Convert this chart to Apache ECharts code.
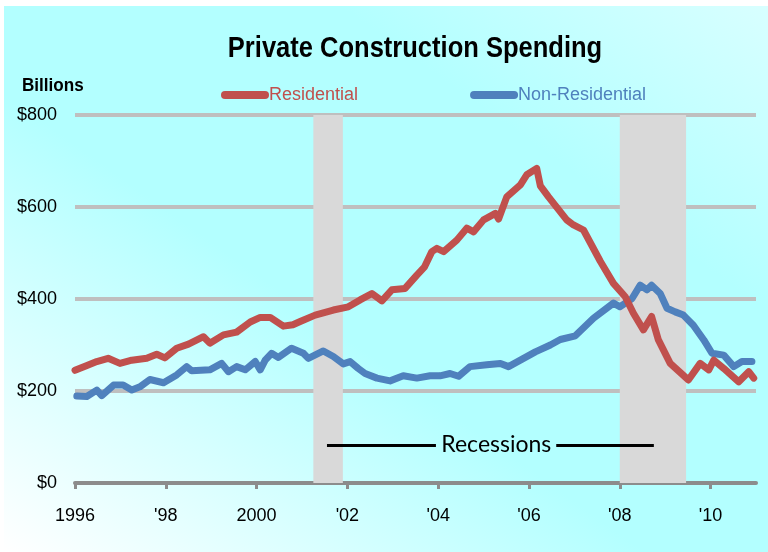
<!DOCTYPE html>
<html>
<head>
<meta charset="utf-8">
<script src="https://cdn.jsdelivr.net/npm/echarts@6/dist/echarts.min.js"></script>
<style>
  body { margin: 0; background: #fff; }
  #bg { position: absolute; left: 4px; top: 6px; width: 764px; height: 546px;
        background: linear-gradient(to top right, #ffffff 0%, #b3ffff 42%, #b3ffff 72%, #d8ffff 100%); }
  #main { position: absolute; left: 0; top: 0; width: 768px; height: 552px; }
</style>
</head>
<body>
<div id="bg"></div>
<div id="main"></div>
<script>
  // times in decimal years, values in $ billions (annual rate)
  let resTimes = [
    1996.0, 1996.25, 1996.48, 1996.73, 1996.99, 1997.25, 1997.58, 1997.8, 1997.98,
    1998.24, 1998.5, 1998.83, 1998.97, 1999.27, 1999.56, 1999.86, 2000.08, 2000.3,
    2000.59, 2000.8, 2000.96, 2001.29, 2001.69, 2002.02, 2002.28, 2002.54, 2002.76,
    2002.98, 2003.27, 2003.53, 2003.7, 2003.86, 2003.97, 2004.12, 2004.41, 2004.63,
    2004.78, 2005.0, 2005.26, 2005.33, 2005.51, 2005.81, 2005.95, 2006.17, 2006.25,
    2006.43, 2006.83, 2006.98, 2007.2, 2007.57, 2007.86, 2008.12, 2008.3, 2008.52,
    2008.7, 2008.85, 2009.11, 2009.51, 2009.77, 2009.96, 2010.07, 2010.29, 2010.62,
    2010.84, 2010.95
  ]
  let residential = [
    245, 255, 264, 271, 260, 267, 271, 280, 272,
    293, 302, 318, 304, 322, 328, 350, 360, 360,
    341, 344, 351, 365, 376, 383, 398, 412, 396,
    420, 423, 452, 470, 503, 510, 503, 528, 554,
    546, 572, 586, 574, 622, 648, 670, 684, 646,
    622, 572, 561, 550, 482, 434, 405, 369, 333,
    362, 311, 260, 224, 260, 246, 267, 249, 220,
    242, 228
  ]
  let nonResTimes = [
    1996.04, 1996.26, 1996.48, 1996.59, 1996.85, 1997.06, 1997.25, 1997.43, 1997.65,
    1997.95, 1998.24, 1998.46, 1998.57, 1998.97, 1999.23, 1999.38, 1999.56, 1999.75,
    1999.97, 2000.08, 2000.19, 2000.33, 2000.48, 2000.77, 2001.03, 2001.14, 2001.47,
    2001.69, 2001.91, 2002.06, 2002.24, 2002.39, 2002.65, 2002.94, 2003.23, 2003.53,
    2003.82, 2004.04, 2004.26, 2004.45, 2004.7, 2005.07, 2005.37, 2005.55, 2005.81,
    2006.14, 2006.47, 2006.69, 2007.02, 2007.42, 2007.86, 2008.0, 2008.27, 2008.45,
    2008.6, 2008.7, 2008.89, 2009.04, 2009.22, 2009.4, 2009.62, 2009.85, 2010.03,
    2010.29, 2010.51, 2010.69, 2010.91
  ]
  let nonResidential = [
    189, 188, 202, 190, 213, 213, 202, 209, 225,
    218, 235, 253, 244, 246, 260, 242, 253, 246,
    264, 246, 267, 282, 273, 293, 282, 271, 287,
    275, 259, 264, 249, 238, 228, 222, 233, 228,
    233, 233, 238, 232, 253, 257, 260, 253, 267,
    285, 300, 312, 320, 358, 391, 383, 401, 430,
    420, 430, 412, 380, 372, 365, 343, 311, 282,
    278, 253, 264, 264
  ]
  let recessions = [[2001.25, 2001.9], [2008.0, 2009.46]]
  let tickYears = [1996, 1998, 2000, 2002, 2004, 2006, 2008, 2010]
  let yearLabels = ['1996', '\'98', '2000', '\'02', '\'04', '\'06', '\'08', '\'10']

  let sans = '"Liberation Sans", Arial, sans-serif'

  let chart = echarts.init(document.getElementById('main'))
  chart.setOption({
    backgroundColor: 'transparent',
    animation: false,
    graphic: [
      {
        type: 'text',
        x: 415,
        y: 34,
        scaleX: 0.88,
        silent: true,
        style: {
          text: 'Private Construction Spending',
          textAlign: 'center',
          font: 'bold 29px ' + sans,
          fill: '#000'
        }
      },
      {
        type: 'text',
        x: 22,
        y: 77,
        scaleX: 0.95,
        silent: true,
        style: { text: 'Billions', font: 'bold 18px ' + sans, fill: '#000' }
      }
    ],
    legend: {
      left: 216,
      top: 81,
      itemGap: 112,
      itemWidth: 48,
      itemHeight: 8,
      icon: 'path://M4,0 H44 A4,4 0 0 1 44,8 H4 A4,4 0 0 1 4,0 Z',
      data: [
        { name: 'Residential', textStyle: { color: '#c0504d' } },
        { name: 'Non-Residential', textStyle: { color: '#4f81bd' } }
      ],
      textStyle: { fontFamily: sans, fontSize: 18, padding: [0, 0, 0, -5] }
    },
    grid: { left: 75, right: 12, top: 115, bottom: 69 },
    xAxis: {
      type: 'value',
      min: 1996,
      max: 2011,
      splitLine: { show: false },
      axisLine: { lineStyle: { color: '#8c8c8c', width: 4 } },
      axisTick: { customValues: tickYears, length: 6, lineStyle: { color: '#8c8c8c', width: 3 } },
      axisLabel: {
        customValues: tickYears,
        margin: 24,
        fontFamily: sans,
        fontSize: 18,
        color: '#000',
        formatter: function (v) { return yearLabels[tickYears.indexOf(v)] || '' }
      }
    },
    yAxis: {
      type: 'value',
      min: 0,
      max: 800,
      interval: 200,
      axisLine: { show: false },
      axisTick: { show: false },
      splitLine: { lineStyle: { color: '#bfbfbf', width: 4 } },
      axisLabel: {
        margin: 18,
        fontFamily: sans,
        fontSize: 18,
        color: '#000',
        formatter: function (v) { return '$' + v }
      }
    },
    series: [
      {
        name: 'Residential',
        type: 'line',
        showSymbol: false,
        data: resTimes.map((t, i) => [t, residential[i]]),
        lineStyle: { color: '#c0504d', width: 7, cap: 'round', join: 'round' },
        itemStyle: { color: '#c0504d' },
        z: 3,
        markArea: {
          silent: true,
          itemStyle: { color: '#d9d9d9', opacity: 1 },
          data: recessions.map(r => [{ xAxis: r[0] }, { xAxis: r[1] }])
        }
      },
      {
        name: 'Non-Residential',
        type: 'line',
        showSymbol: false,
        data: nonResTimes.map((t, i) => [t, nonResidential[i]]),
        lineStyle: { color: '#4f81bd', width: 7, cap: 'round', join: 'round' },
        itemStyle: { color: '#4f81bd' },
        z: 2,
        markLine: {
          silent: true,
          symbol: 'none',
          label: { show: false },
          lineStyle: { color: '#000', width: 3, type: 'solid' },
          data: [
            [{ coord: [2001.55, 83] }, { coord: [2003.95, 83] }],
            [{ coord: [2006.6, 83] }, { coord: [2008.75, 83] }]
          ]
        },
        markPoint: {
          silent: true,
          symbol: 'rect',
          symbolSize: 1,
          itemStyle: { color: 'transparent' },
          label: {
            show: true,
            position: 'inside',
            formatter: 'Recessions',
            fontFamily: 'Lato, "Open Sans", sans-serif',
            fontSize: 23,
            color: '#000'
          },
          data: [{ coord: [2005.28, 83] }]
        }
      }
    ]
  })
</script>
</body>
</html>
